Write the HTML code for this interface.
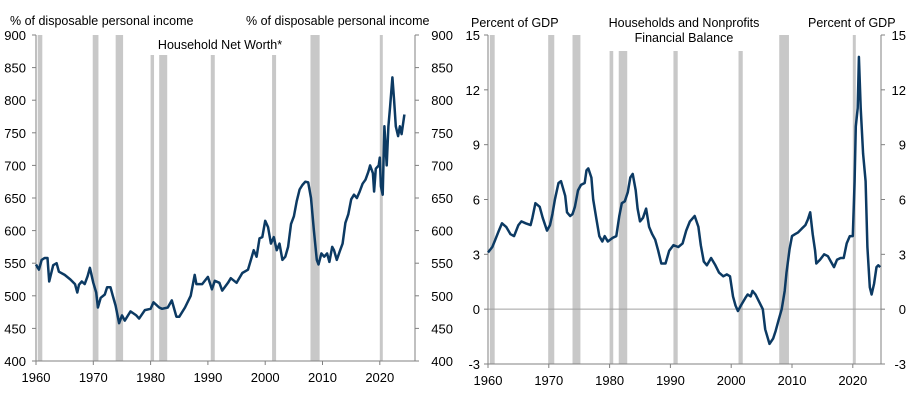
<!DOCTYPE html>
<html><head><meta charset="utf-8"><style>
html,body{margin:0;padding:0;background:#fff;}
svg{display:block;font-family:"Liberation Sans",Arial,sans-serif;}
</style></head><body>
<svg id="c" width="912" height="414" viewBox="0 0 912 414"></svg>
<script>
const leftYears=[1960,1960.5,1961,1961.5,1962,1962.3,1963,1963.6,1964,1965,1966,1966.8,1967.2,1967.5,1968,1968.5,1969,1969.4,1970,1970.5,1970.8,1971.3,1972,1972.4,1973,1973.4,1973.9,1974.5,1975,1975.5,1976.5,1977.5,1978,1979,1980,1980.5,1981.5,1982,1983,1983.7,1984.5,1985,1986,1987,1987.7,1988,1989,1990,1990.7,1991.2,1992,1992.5,1993.5,1994,1995,1996,1997,1997.5,1998,1998.5,1999,1999.5,2000,2000.5,2001,2001.5,2002,2002.5,2003,2003.5,2004,2004.5,2005,2005.5,2006,2006.5,2007,2007.5,2008,2008.5,2009,2009.3,2009.8,2010.3,2010.8,2011.2,2011.7,2012,2012.5,2013,2013.5,2014,2014.5,2015,2015.5,2016,2016.5,2017,2017.5,2018,2018.3,2018.8,2019,2019.3,2019.8,2020,2020.2,2020.5,2020.8,2021.2,2021.5,2021.8,2022.2,2022.5,2022.8,2023.2,2023.5,2023.8,2024.3];
const leftValues=[548,540,555,558,558,522,547,550,537,532,525,518,505,517,522,518,530,543,520,505,482,497,502,513,513,500,485,458,470,462,476,470,465,478,480,490,482,480,482,493,468,468,482,500,532,518,518,529,510,523,520,508,520,527,520,535,540,555,570,560,588,590,615,605,580,590,570,580,555,560,575,610,622,645,663,670,675,674,650,600,555,548,565,560,565,552,575,570,555,568,580,612,625,648,655,650,660,672,678,690,700,688,660,695,700,712,668,655,760,700,760,790,835,800,760,745,760,748,778];
const rightYears=[1960,1960.7,1961.2,1961.8,1962.3,1963,1963.7,1964.3,1965,1965.5,1966.2,1967,1967.3,1967.8,1968.5,1969,1969.7,1970.2,1970.6,1971,1971.6,1972,1972.7,1973,1973.5,1973.9,1974.3,1974.8,1975.3,1975.9,1976.2,1976.5,1977,1977.3,1977.8,1978.3,1978.8,1979.2,1979.7,1980.5,1981.1,1981.6,1982,1982.5,1983,1983.4,1983.8,1984.3,1984.6,1985,1985.5,1986,1986.5,1987,1987.5,1988,1988.5,1989.2,1989.8,1990.5,1991.3,1992,1992.6,1993.2,1994,1994.6,1995,1995.5,1996,1996.7,1997.4,1998,1998.7,1999.3,1999.8,2000.3,2000.7,2001.1,2001.6,2002.3,2002.7,2003.2,2003.5,2004,2004.6,2005.2,2005.6,2006.3,2006.9,2007.3,2007.8,2008.3,2008.8,2009.1,2009.6,2010,2010.5,2011,2011.6,2012.2,2012.6,2013,2013.4,2013.8,2014,2014.6,2015.3,2015.9,2016.4,2016.9,2017.4,2018,2018.5,2019,2019.5,2020,2020.3,2020.5,2020.8,2021,2021.3,2021.7,2022.1,2022.4,2022.8,2023.1,2023.5,2023.9,2024.2,2024.5];
const rightValues=[3.1,3.4,3.8,4.3,4.7,4.5,4.1,4.0,4.6,4.8,4.7,4.6,5.0,5.8,5.6,5.0,4.3,4.6,5.2,6.0,6.9,7.0,6.2,5.3,5.1,5.2,5.6,6.5,6.8,6.9,7.6,7.7,7.2,6.0,5.0,4.0,3.7,4.0,3.7,3.9,4.0,5.1,5.8,5.9,6.4,7.2,7.4,6.5,5.5,4.8,5.0,5.5,4.5,4.1,3.8,3.2,2.5,2.5,3.2,3.5,3.4,3.6,4.3,4.8,5.1,4.5,3.5,2.6,2.4,2.8,2.4,2.0,1.8,1.9,1.8,0.7,0.2,-0.1,0.2,0.6,0.8,0.7,1.0,0.8,0.4,0,-1.1,-1.9,-1.6,-1.2,-0.6,0,1.0,2.0,3.3,4.0,4.1,4.2,4.4,4.6,4.9,5.3,4.1,3.2,2.5,2.7,3.0,2.9,2.6,2.3,2.7,2.8,2.8,3.6,4.0,4.0,7.0,10.0,11.0,13.8,11.0,8.5,7.0,3.4,1.2,0.8,1.4,2.3,2.4,2.3];
const leftTicks=[400,450,500,550,600,650,700,750,800,850,900];
const rightTicks=[-3,0,3,6,9,12,15];
const yearTicks=[1960,1970,1980,1990,2000,2010,2020];
const recessions=[[1960.3,1961.1],[1969.9,1970.9],[1973.9,1975.2],[1980.0,1980.6],[1981.5,1982.9],[1990.5,1991.2],[2001.2,2001.9],[2007.9,2009.5],[2020.0,2020.4]];

const NS="http://www.w3.org/2000/svg";
const svg=document.getElementById('c');
function mk(tag,attrs,parent){const e=document.createElementNS(NS,tag);for(const k in attrs)e.setAttribute(k,attrs[k]);(parent||svg).appendChild(e);return e;}
function txt(x,y,s,anchor,parent,fs){const t=mk('text',{x:x,y:y,'font-size':fs||'12.5','fill':'#000','text-anchor':anchor||'start'},parent);t.textContent=s;return t;}

function chart(cfg){
  const g=mk('g',{});
  
  
  const X=yr=>cfg.x0+(yr-1960)*cfg.pxPerYear;
  const Y=v=>cfg.y0+(v-cfg.vmin)/(cfg.vmax-cfg.vmin)*(cfg.y1-cfg.y0);
  recessions.forEach((r,i)=>{
    const tall=cfg.tall.includes(i);
    const top=tall?cfg.y1:cfg.shortTop;
    const rc=mk('rect',{x:X(r[0]),y:top,width:Math.max(3,X(r[1])-X(r[0])),height:cfg.y0-top,fill:'#c8c8c8'},g);
    
    
  });
  if(cfg.zero){const z=mk('line',{x1:cfg.x0,x2:cfg.xr,y1:Y(0),y2:Y(0),stroke:'#a0a0a0','stroke-width':1},g);}
  const ax=mk('path',{d:`M${cfg.x0},${cfg.y1}V${cfg.y0}H${cfg.xr}V${cfg.y1}`,fill:'none',stroke:'#808080','stroke-width':1},g);
  
  cfg.ticks.forEach(v=>{
    const y=Y(v);
    mk('line',{x1:cfg.x0-4,x2:cfg.x0,y1:y,y2:y,stroke:'#808080'},g);
    mk('line',{x1:cfg.xr,x2:cfg.xr+4,y1:y,y2:y,stroke:'#808080'},g);
    const a=txt(cfg.x0-cfg.lpad,y+5,String(v),'end',g,'13');
    const b=txt(cfg.xr+cfg.rpad,y+5,String(v),'end',g,'13');
  });
  yearTicks.forEach(yr=>{
    const x=X(yr);
    mk('line',{x1:x,x2:x,y1:cfg.y0,y2:cfg.y0+4,stroke:'#808080'},g);
    const t=txt(x,cfg.y0+21,String(yr),'middle',g,'13');
  });
  const d=cfg.years.map((yr,i)=>(i?'L':'M')+X(yr).toFixed(1)+','+Y(cfg.values[i]).toFixed(1)).join('');
  const p=mk('path',{d:d,fill:'none',stroke:'#0c3a63','stroke-width':2.5,'stroke-linejoin':'round'},g);
  
  cfg.labels.forEach(l=>{const t=txt(l[0],l[1],l[2],l[3],g);});
}
chart({name:'household-net-worth-chart',x0:36,xr:415,y0:361,y1:35,vmin:400,vmax:900,pxPerYear:5.73,shortTop:55,tall:[0,1,2,7,8],ticks:leftTicks,years:leftYears,values:leftValues,lpad:10,rpad:38,zero:false,
 labels:[[10,25,'% of disposable  personal  income','start','left-axis-title'],[246,25,'% of disposable  personal  income','start','right-axis-title'],[220,49,'Household Net Worth*','middle','chart-title']]});
chart({name:'financial-balance-chart',x0:488,xr:881,y0:364,y1:35,vmin:-3,vmax:15,pxPerYear:6.08,shortTop:51,tall:[0,1,2,7,8],ticks:rightTicks,years:rightYears,values:rightValues,lpad:8,rpad:25,zero:true,
 labels:[[471,27,'Percent of GDP','start','left-axis-title'],[808,27,'Percent of GDP','start','right-axis-title'],[684,27,'Households and Nonprofits','middle','chart-title'],[684,42,'Financial Balance','middle','chart-subtitle']]});
</script>
</body></html>
